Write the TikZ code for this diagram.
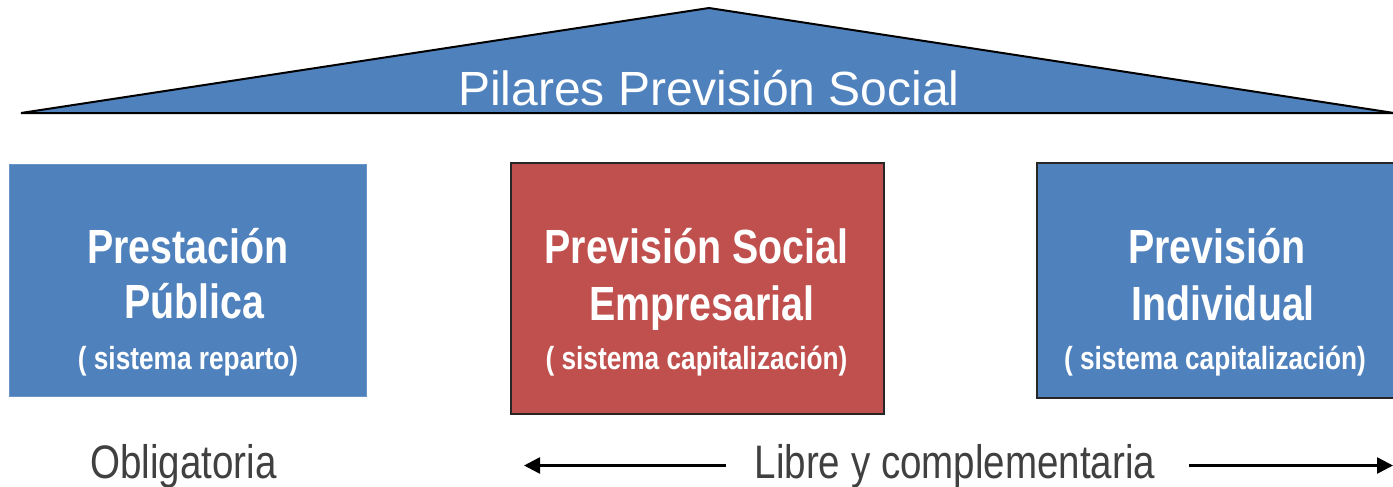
\documentclass[tikz,border=0pt]{standalone}
\usepackage{fontspec}
\setmainfont{Liberation Sans}
\newfontfamily\narrowfont[FakeStretch=0.82]{Liberation Sans}
\usetikzlibrary{arrows.meta}
\definecolor{pblue}{HTML}{4F81BD}
\definecolor{pred}{HTML}{C0504D}
\definecolor{ptext}{HTML}{404040}
\tikzset{
  pillar/.style={draw=#1, line width=1.5pt, anchor=north west, inner sep=0pt},
  bigline/.style={anchor=base, text=white, font=\narrowfont\bfseries\fontsize{48}{55}\selectfont, inner sep=0pt},
  smallline/.style={anchor=base, text=white, font=\narrowfont\bfseries\fontsize{32}{38}\selectfont, inner sep=0pt},
  bottomtext/.style={anchor=base, text=ptext, font=\narrowfont\fontsize{47}{54}\selectfont, inner sep=0pt},
  harrow/.style={line width=2.6pt, -{Triangle[length=16pt,width=16pt]}},
}
\begin{document}
\begin{tikzpicture}[x=1pt,y=-1pt]
\useasboundingbox (0,0) rectangle (1393,487);
% roof
\coordinate (tl) at (21,113);
\coordinate (tt) at (709,8);
\coordinate (tr) at (1394,113);
\filldraw[fill=pblue, draw=black, line width=2pt, line join=miter] (tl) -- (tt) -- (tr) -- cycle;
\node[anchor=base, text=white, font=\fontsize{48}{55}\selectfont, inner sep=0pt] (title) at (709,106) {Pilares Previsión Social};
% pillars
\node[pillar=pblue!85!white, fill=pblue, minimum width=357pt, minimum height=232pt, line width=0.8pt] (p1) at (9,164) {};
\node[pillar=black!85, fill=pred, minimum width=373pt, minimum height=251pt] (p2) at (510,162) {};
\node[pillar=black!85, fill=pblue, minimum width=380pt, minimum height=235pt] (p3) at (1036,162) {};
% pillar texts
\node[bigline] (p1a) at (188,263) {Prestación};
\node[bigline] (p1b) at (194,318) {Pública};
\node[smallline] (p1c) at (188,369) {( sistema reparto)};
\node[bigline] (p2a) at (696.5,263) {Previsión Social};
\node[bigline] (p2b) at (702,320) {Empresarial};
\node[smallline] (p2c) at (696.5,369) {( sistema capitalización)};
\node[bigline] (p3a) at (1217,263) {Previsión};
\node[bigline] (p3b) at (1223,320) {Individual};
\node[smallline] (p3c) at (1215,369) {( sistema capitalización)};
% bottom
\node[bottomtext] (oblig) at (183.5,478) {Obligatoria};
\node[bottomtext] (libre) at (955,478) {Libre y complementaria};
\coordinate (la) at (726,465.5);
\coordinate (lb) at (524,465.5);
\coordinate (ra) at (1189,465.5);
\coordinate (rb) at (1393,465.5);
\draw[harrow] (la) -- (lb);
\draw[harrow] (ra) -- (rb);
\end{tikzpicture}
\end{document}
